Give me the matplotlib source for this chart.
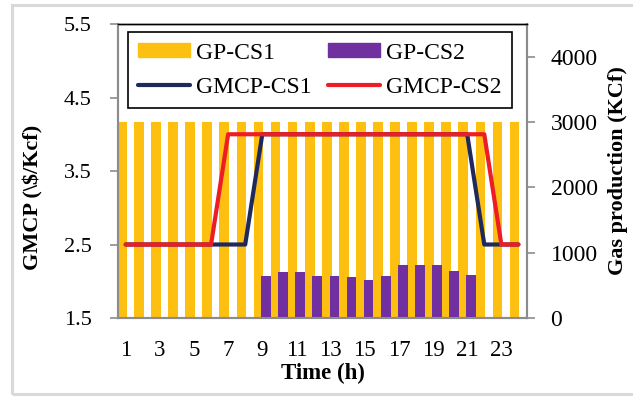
import numpy as np
import matplotlib.pyplot as plt
from matplotlib.patches import Patch, Rectangle
from matplotlib.lines import Line2D

plt.rcParams['font.family'] = ['Liberation Serif', 'DejaVu Serif']

hours = np.arange(1, 25)
gp_cs1 = [3000] * 24
gp_cs2_hours = np.arange(9, 22)
gp_cs2 = [647, 699, 699, 647, 647, 632, 586, 647, 807, 807, 816, 719, 658]
gmcp_cs1 = [2.5] * 8 + [4.0] * 13 + [2.5] * 3
gmcp_cs2 = [2.5] * 6 + [4.0] * 16 + [2.5] * 2

yellow = '#FDC010'
purple = '#7030A0'
navy = '#1F2A5C'
red = '#EE1C25'
grey = '#8C8C8C'

fig = plt.figure(figsize=(6.33, 3.97), dpi=100)
# light frame round the chart (right side runs off the picture)
fig.patches.append(Rectangle((0.019, 0.0076), 1.0, 0.98, transform=fig.transFigure,
                             fill=False, edgecolor='#D9D9D9', linewidth=2.2))

ax = fig.add_axes([0.1864, 0.199, 0.6461, 0.7405])
ax2 = ax.twinx()

# bars on right axis, lines on left axis drawn above
ax2.bar(hours - 0.225, gp_cs1, width=0.57, color=yellow, zorder=2)
ax2.bar(gp_cs2_hours + 0.225, gp_cs2, width=0.57, color=purple, zorder=3)
ax.plot(hours, gmcp_cs1, color=navy, lw=3, solid_capstyle='round', zorder=4)
ax.plot(hours, gmcp_cs2, color=red, lw=3, solid_capstyle='round', zorder=5)
ax.set_zorder(ax2.get_zorder() + 1)
ax.patch.set_visible(False)

ax.set_xlim(0.55, 24.5)
ax.set_ylim(1.5, 5.5)
ax.set_yticks([1.5, 2.5, 3.5, 4.5, 5.5])
ax.set_yticklabels(['1.5', '2.5', '3.5', '4.5', '5.5'])
ax2.set_ylim(0, 4500)
ax2.set_yticks([0, 1000, 2000, 3000, 4000])
ax.set_xticks(np.arange(1, 24, 2))

for a in (ax, ax2):
    for s in a.spines.values():
        s.set_color(grey)
        s.set_linewidth(1.5)
    a.spines['top'].set_color('black')
    a.spines['top'].set_linewidth(1)
ax.tick_params(axis='y', length=6, width=1.2, color=grey, pad=13, labelsize=16)
ax2.tick_params(axis='y', length=6, width=1.2, color=grey, pad=11, labelsize=17)
ax.tick_params(axis='x', length=0, pad=16, labelsize=16.5)

ax.set_xlabel('Time (h)', fontsize=16.5, fontweight='bold')
ax.xaxis.set_label_coords(0.5, -0.152)
ax.set_ylabel(r'GMCP (\$/Kcf)', fontsize=16, fontweight='bold', parse_math=False)
ax.yaxis.set_label_coords(-0.183, 0.41)
ax2.set_ylabel('Gas production (KCf)', fontsize=16, fontweight='bold')
ax2.yaxis.set_label_coords(1.198, 0.5)

handles = [Patch(color=yellow), Line2D([], [], color=navy, lw=3, solid_capstyle='round'),
           Patch(color=purple), Line2D([], [], color=red, lw=3, solid_capstyle='round')]
labels = ['GP-CS1', 'GMCP-CS1', 'GP-CS2', 'GMCP-CS2']
leg = ax.legend(handles, labels, ncol=2, loc='upper left', bbox_to_anchor=(0.024, 0.973, 0.939, 0),
                mode='expand', fontsize=17, frameon=True, fancybox=False, edgecolor='black',
                framealpha=1, handlelength=2.2, handleheight=0.55, handletextpad=0.25,
                borderpad=0.45, labelspacing=0.55, borderaxespad=0)
leg.get_frame().set_linewidth(1.2)

fig.savefig('out.png', dpi=100)
